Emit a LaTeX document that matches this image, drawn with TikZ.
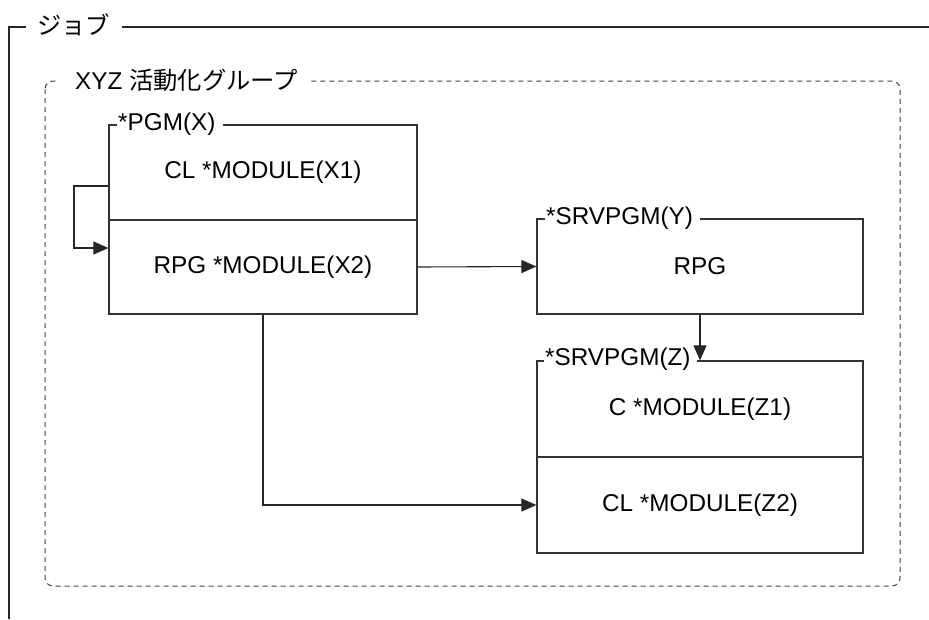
\documentclass[tikz,border=0pt]{standalone}
\usepackage{fontspec}
\setmainfont{Liberation Sans}
\newfontfamily\jp{Noto Sans CJK JP}
\usetikzlibrary{arrows.meta,calc}
\begin{document}
\begin{tikzpicture}[x=1pt,y=-1pt,
  txt/.style={font=\fontsize{24.3}{28}\selectfont},
  modbox/.style={draw=black!80, line width=1.2pt, minimum width=#1, inner sep=0pt, txt},
  frametitle/.style={anchor=west, fill=white, inner xsep=0pt, inner ysep=1pt, txt},
  jobframe/.style={draw=black!85, line width=2pt},
  grpframe/.style={draw=black!75, line width=1pt, dash pattern=on 5pt off 4pt, rounded corners=8pt},
  arr/.style={draw=black!85, line width=1.1pt, -{Triangle[length=15pt,width=13pt]}}
]
\useasboundingbox (0,0) rectangle (929,619);

% job frame
\draw[jobframe] (929,27) -- (9,27) -- (9,619);
\node[frametitle] (jobt) at (26,25) {\kern11pt{\jp ジョブ}\kern12pt};

% activation group frame
\draw[grpframe] (45,81) rectangle (900,586);
\node[frametitle] (grpt) at (58,80) {\kern17pt XYZ {\jp 活動化グループ}\kern12pt};

% *PGM(X)
\node[modbox=308pt, minimum height=95pt] (X1) at (263,172.5) {CL *MODULE(X1)};
\node[modbox=308pt, minimum height=94pt] (X2) at (263,267) {RPG *MODULE(X2)};
\node[frametitle] (pgmx) at (117,124) {\kern1pt*PGM(X)\kern8pt};

% *SRVPGM(Y)
\node[modbox=326pt, minimum height=95pt] (Y) at (700,266.5) {RPG};
\node[frametitle] (srvy) at (545,218) {\kern1pt*SRVPGM(Y)\kern7pt};

% *SRVPGM(Z)
\node[modbox=326pt, minimum height=96pt] (Z1) at (700,409) {C *MODULE(Z1)};
\node[modbox=326pt, minimum height=96pt] (Z2) at (700,505) {CL *MODULE(Z2)};
\node[frametitle] (srvz) at (544,359) {\kern1pt*SRVPGM(Z)\kern6pt};

% connectors
\coordinate (loopout) at ($(X1.west)+(0,13.5)$);
\coordinate (loopin) at ($(X2.west)+(0,-19)$);
\draw[arr] (loopout) -- (74,186) -- (74,248) -- (loopin);
\draw[arr] (X2.east) -- (Y.west);
\draw[arr] (Y.south) -- (Z1.north);
\draw[arr] (X2.south) |- (Z2.west);
\end{tikzpicture}
\end{document}
